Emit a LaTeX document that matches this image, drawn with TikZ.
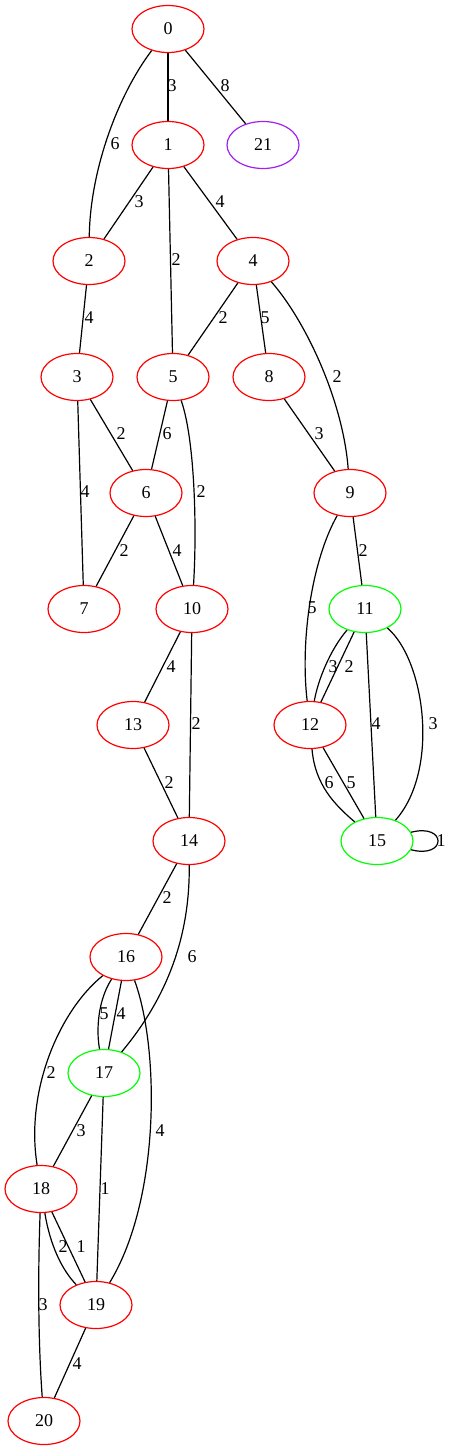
\documentclass[tikz,border=0pt]{standalone}
\usepackage{fontspec}
\setmainfont{Liberation Serif}
\usetikzlibrary{shapes.geometric}
\definecolor{gvred}{RGB}{255,0,0}
\definecolor{gvgreen}{RGB}{0,255,0}
\definecolor{gvpurple}{RGB}{160,32,240}
\begin{document}
\begin{tikzpicture}[x=1pt,y=-1pt,
  vtx/.style={ellipse, draw=gvred, line width=1.2pt, minimum width=72pt, minimum height=47pt, inner sep=0pt, font=\fontsize{18}{20}\selectfont},
  grn/.style={vtx, draw=gvgreen},
  pur/.style={vtx, draw=gvpurple},
  link/.style={draw=black, line width=1.2pt},
  lbl/.style={inner sep=0pt, font=\fontsize{18}{20}\selectfont}
]
\useasboundingbox (0,0) rectangle (452,1451);
% nodes
\node[vtx] (n0) at (168,29) {0};
\node[vtx] (n1) at (168,145) {1};
\node[pur] (n21) at (263,145) {21};
\node[vtx] (n2) at (89,261) {2};
\node[vtx] (n4) at (253,261) {4};
\node[vtx] (n3) at (77,377) {3};
\node[vtx] (n5) at (173,377) {5};
\node[vtx] (n8) at (269,377) {8};
\node[vtx] (n6) at (146,493) {6};
\node[vtx] (n9) at (350,493) {9};
\node[vtx] (n7) at (84,609) {7};
\node[vtx] (n10) at (192,609) {10};
\node[grn] (n11) at (365,609) {11};
\node[vtx] (n13) at (133,725) {13};
\node[vtx] (n12) at (310,725) {12};
\node[vtx] (n14) at (189,841) {14};
\node[grn] (n15) at (377,841) {15};
\node[vtx] (n16) at (126,957) {16};
\node[grn] (n17) at (104,1073) {17};
\node[vtx] (n18) at (41,1189) {18};
\node[vtx] (n19) at (96,1305) {19};
\node[vtx] (n20) at (44,1421) {20};
% edges
\path[link] (n0) -- (n1);
\path[link] (n0) -- (n21);
\path[link] (n0) .. controls (118,95) and (90,170) .. (n2);
\path[link] (n1) -- (n2);
\path[link] (n1) -- (n5);
\path[link] (n1) -- (n4);
\path[link] (n2) -- (n3);
\path[link] (n4) -- (n5);
\path[link] (n4) -- (n8);
\path[link] (n4) .. controls (305,320) and (343,400) .. (n9);
\path[link] (n3) -- (n7);
\path[link] (n3) -- (n6);
\path[link] (n5) -- (n6);
\path[link] (n5) .. controls (195,440) and (197,530) .. (n10);
\path[link] (n8) -- (n9);
\path[link] (n6) -- (n7);
\path[link] (n6) -- (n10);
\path[link] (n9) .. controls (312,560) and (300,640) .. (n12);
\path[link] (n9) -- (n11);
\path[link] (n11) .. controls (330,650) and (318,680) .. (n12);
\path[link] (n11) -- (n12);
\path[link] (n11) -- (n15);
\path[link] (n11) .. controls (425,660) and (440,770) .. (n15);
\path[link] (n12) .. controls (315,785) and (335,805) .. (n15);
\path[link] (n12) -- (n15);
\path[link] (n15) .. controls (447,823) and (447,859) .. (n15);
\path[link] (n10) -- (n13);
\path[link] (n10) -- (n14);
\path[link] (n13) -- (n14);
\path[link] (n14) -- (n16);
\path[link] (n14) .. controls (190,940) and (165,1000) .. (n17);
\path[link] (n16) .. controls (98,1000) and (96,1030) .. (n17);
\path[link] (n16) -- (n17);
\path[link] (n16) .. controls (60,1010) and (25,1090) .. (n18);
\path[link] (n16) .. controls (160,1050) and (160,1200) .. (n19);
\path[link] (n17) -- (n18);
\path[link] (n17) -- (n19);
\path[link] (n18) .. controls (50,1245) and (62,1270) .. (n19);
\path[link] (n18) -- (n19);
\path[link] (n18) .. controls (38,1270) and (38,1340) .. (n20);
\path[link] (n19) -- (n20);
% edge labels
\node[lbl] (l0_1) at (172,86) {3};
\node[lbl] (l0_21) at (225,86) {8};
\node[lbl] (l0_2) at (115,144) {6};
\node[lbl] (l1_2) at (139,202) {3};
\node[lbl] (l1_4) at (220,202) {4};
\node[lbl] (l1_5) at (176,260) {2};
\node[lbl] (l2_3) at (89,318) {4};
\node[lbl] (l4_5) at (223,318) {2};
\node[lbl] (l4_8) at (265,318) {5};
\node[lbl] (l4_9) at (337,377) {2};
\node[lbl] (l3_6) at (121,434) {2};
\node[lbl] (l5_6) at (167,434) {6};
\node[lbl] (l8_9) at (319,434) {3};
\node[lbl] (l3_7) at (85,492) {4};
\node[lbl] (l5_10) at (201,492) {2};
\node[lbl] (l6_7) at (124,551) {2};
\node[lbl] (l6_10) at (177,551) {4};
\node[lbl] (l9_11) at (363,551) {2};
\node[lbl] (l9_12) at (312,608) {5};
\node[lbl] (l10_13) at (171,667) {4};
\node[lbl] (l11_12a) at (333,667) {3};
\node[lbl] (l11_12b) at (349,667) {2};
\node[lbl] (l10_14) at (196,724) {2};
\node[lbl] (l11_15a) at (376,724) {4};
\node[lbl] (l11_15b) at (433,724) {3};
\node[lbl] (l13_14) at (169,783) {2};
\node[lbl] (l12_15a) at (329,783) {6};
\node[lbl] (l12_15b) at (351,783) {5};
\node[lbl] (l15_15) at (441,841) {1};
\node[lbl] (l14_16) at (167,898) {2};
\node[lbl] (l14_17) at (192,957) {6};
\node[lbl] (l16_17a) at (104,1014) {5};
\node[lbl] (l16_17b) at (121,1014) {4};
\node[lbl] (l16_18) at (51,1073) {2};
\node[lbl] (l17_18) at (81,1131) {3};
\node[lbl] (l16_19) at (160,1131) {4};
\node[lbl] (l17_19) at (105,1189) {1};
\node[lbl] (l18_19a) at (63,1247) {2};
\node[lbl] (l18_19b) at (81,1247) {1};
\node[lbl] (l18_20) at (43,1305) {3};
\node[lbl] (l19_20) at (77,1364) {4};
\end{tikzpicture}
\end{document}
